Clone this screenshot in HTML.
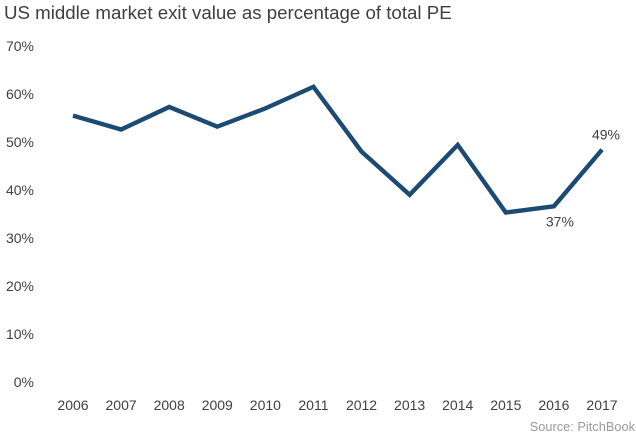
<!DOCTYPE html>
<html><head><meta charset="utf-8"><style>
body{margin:0;background:#fff;}
svg{display:block;font-family:"Liberation Sans",sans-serif;}
</style></head><body>
<svg id="chart" width="636" height="434">
<text x="4" y="19" font-size="18.7" fill="#3f3f3f">US middle market exit value as percentage of total PE</text>
<g id="yaxis"></g>
<g id="xaxis"></g>
<g id="series"></g>
<text x="635" y="431" font-size="12.8" fill="#9a9a9a" text-anchor="end">Source: PitchBook</text>
</svg>
<script>
const categories=["2006","2007","2008","2009","2010","2011","2012","2013","2014","2015","2016","2017"];
const values=[55.5,52.6,57.3,53.2,57.0,61.5,48.0,39.0,49.4,35.3,36.6,48.4];
const yTicks=[0,10,20,30,40,50,60,70];
const pointLabels={10:"37%",11:"49%"};
const NS="http://www.w3.org/2000/svg";
const x=i=>73+i*(602-73)/(categories.length-1);
const y=v=>382-v*4.8;
function mk(tag,attrs,parent,text){const e=document.createElementNS(NS,tag);for(const k in attrs)e.setAttribute(k,attrs[k]);if(text!==undefined)e.textContent=text;parent.appendChild(e);return e;}
const ya=document.getElementById('yaxis'),xa=document.getElementById('xaxis'),se=document.getElementById('series');
yTicks.forEach(t=>{const e=mk('text',{x:34,y:y(t)+5,'font-size':14,fill:'#404040','text-anchor':'end'},ya,t+'%');

});
categories.forEach((c,i)=>{const e=mk('text',{x:x(i),y:410,'font-size':14,fill:'#404040','text-anchor':'middle'},xa,c);

});
const pts=values.map((v,i)=>x(i)+','+y(v)).join(' ');
const line=mk('polyline',{points:pts,fill:'none',stroke:'#1c4a72','stroke-width':4.4,'stroke-linejoin':'miter'},se);


for(const k in pointLabels){const i=+k;const above=i===categories.length-1;
const e=mk('text',{x:x(i)+(above?4:6),y:above?y(values[i])-10:y(values[i])+20,'font-size':14,fill:'#404040','text-anchor':'middle'},se,pointLabels[k]);

}
</script>
</body></html>
